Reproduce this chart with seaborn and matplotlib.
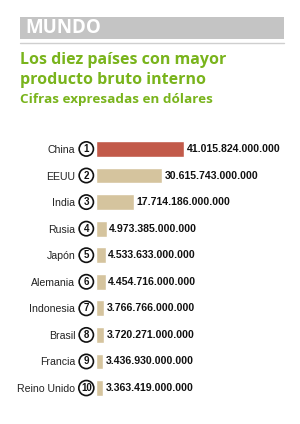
import matplotlib
matplotlib.use("Agg")
import matplotlib.pyplot as plt
import seaborn as sns
import pandas as pd
from matplotlib.patches import Rectangle
from matplotlib.lines import Line2D

# Datos: los diez países con mayor producto bruto interno (dólares)
paises = ["China", "EEUU", "India", "Rusia", "Japón", "Alemania",
          "Indonesia", "Brasil", "Francia", "Reino Unido"]
valores = [41015824000000, 30615743000000, 17714186000000, 4973385000000,
           4533633000000, 4454716000000, 3766766000000, 3720271000000,
           3436930000000, 3363419000000]
rangos = list(range(1, 11))

df = pd.DataFrame({"pais": paises, "valor": valores, "rango": rangos})
df["billones"] = df["valor"] / 1e12

sns.set_style("white")
plt.rcParams["font.family"] = ["Liberation Sans", "DejaVu Sans"]

fig = plt.figure(figsize=(3.0, 4.24), dpi=100)
ax = fig.add_axes([0.32, 0.0535, 0.647, 0.6265])

colores = ["#c25a4a"] + ["#d5c49e"] * (len(paises) - 1)
sns.barplot(data=df, x="billones", y="pais", hue="pais", palette=colores,
            legend=False, width=0.6, saturation=1, ax=ax)

ax.set_xlim(0, 90.4)
ax.set_ylim(9.5, -0.5)
ax.set_xlabel("")
ax.set_ylabel("")
ax.set_xticks([])
sns.despine(ax=ax, left=True, bottom=True)
ax.tick_params(axis="y", length=0, pad=15, labelsize=7.6, labelcolor="#222222")

# etiquetas de valor
for i, v in enumerate(df["billones"]):
    etiqueta = f"{valores[i]:,}".replace(",", ".")
    ax.text(v + 1.2, i, etiqueta, va="center", ha="left",
            fontsize=7.6, fontweight="bold", color="#111111")

# números en círculo
trans = ax.get_yaxis_transform()
for i, r in enumerate(rangos):
    ax.text(-0.05, i, str(r), transform=trans, ha="center", va="center",
            fontsize=7, fontweight="bold", color="#111111",
            bbox=dict(boxstyle="circle,pad=0.22", fc="white", ec="#111111", lw=1.2))

# cabecera
fig.patches.append(Rectangle((0.0667, 0.908), 0.88, 0.0519, transform=fig.transFigure,
                             facecolor="#c4c4c4", edgecolor="none"))
fig.text(0.083, 0.933, "MUNDO", color="white", fontsize=13.5, fontweight="bold",
         va="center", ha="left", family=["Open Sans", "DejaVu Sans"])
fig.lines.append(Line2D([0.0667, 0.9467], [0.898, 0.898], transform=fig.transFigure,
                        color="#cfcfcf", lw=1))

verde = "#79b41c"
fig.text(0.0667, 0.858, "Los diez países con mayor", color=verde, fontsize=11.5,
         fontweight="bold", va="center", ha="left", family=["Open Sans", "DejaVu Sans"])
fig.text(0.0667, 0.811, "producto bruto interno", color=verde, fontsize=11.5,
         fontweight="bold", va="center", ha="left", family=["Open Sans", "DejaVu Sans"])
fig.text(0.0667, 0.766, "Cifras expresadas en dólares", color=verde, fontsize=9.7,
         fontweight="bold", va="center", ha="left", family=["Open Sans", "DejaVu Sans"])

fig.savefig("out.png", dpi=100)
